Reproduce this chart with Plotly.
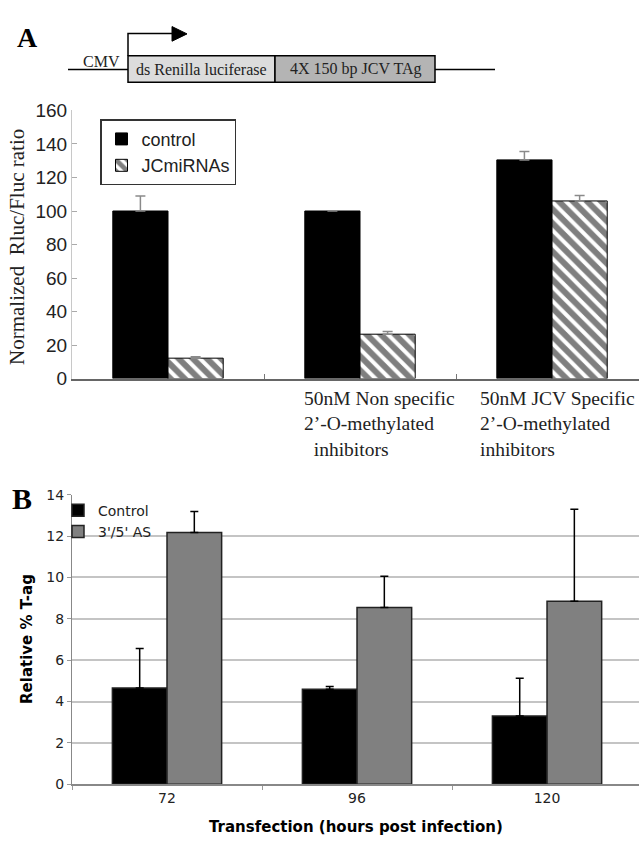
import plotly.graph_objects as go

W, H = 639, 845

# ---------------- Data ----------------
# Panel A
a_categories = ["", "50nM Non specific", "50nM JCV Specific"]
a_labels = ["",
            "50nM Non specific<br>2’-O-methylated<br>\u00a0\u00a0inhibitors",
            "50nM JCV Specific<br>2’-O-methylated<br>inhibitors"]
a_control = [100, 100, 130.5]
a_control_err = [9, 0, 5]
a_jc = [12.2, 26.5, 106]
a_jc_err = [0.8, 1.6, 3.2]
a_yticks = [0, 20, 40, 60, 80, 100, 120, 140, 160]

# Panel B
b_categories = ["72", "96", "120"]
b_control = [4.65, 4.59, 3.30]
b_control_err = [1.91, 0.14, 1.83]
b_as = [12.17, 8.54, 8.85]
b_as_err = [1.02, 1.51, 4.44]
b_yticks = [0, 2, 4, 6, 8, 10, 12, 14]


def px(x):
    return x / W


def py(y):
    return 1 - y / H


fig = go.Figure()

# Panel A traces
fig.add_trace(go.Bar(
    x=a_categories, y=a_control, name="control",
    marker=dict(color="black", line=dict(color="black", width=1)),
    error_y=dict(type="data", symmetric=False, array=a_control_err,
                 arrayminus=[0] * 3, color="#8a8a8a", thickness=1.5, width=5),
    xaxis="x", yaxis="y", legend="legend",
))
fig.add_trace(go.Bar(
    x=a_categories, y=a_jc, name="JCmiRNAs",
    marker=dict(color="white", line=dict(color="black", width=1),
                pattern=dict(shape="\\", fgcolor="black", bgcolor="white",
                             size=10, solidity=0.6)),
    error_y=dict(type="data", symmetric=False, array=a_jc_err,
                 arrayminus=[0] * 3, color="#8a8a8a", thickness=1.5, width=5),
    xaxis="x", yaxis="y", legend="legend",
))

# Panel B traces
fig.add_trace(go.Bar(
    x=b_categories, y=b_control, name="Control",
    marker=dict(color="black", line=dict(color="#222", width=1.5)),
    error_y=dict(type="data", symmetric=False, array=b_control_err,
                 arrayminus=[0] * 3, color="black", thickness=1.5, width=4),
    xaxis="x2", yaxis="y2", legend="legend2",
))
fig.add_trace(go.Bar(
    x=b_categories, y=b_as, name="3'/5' AS",
    marker=dict(color="#808080", line=dict(color="#222", width=1.5)),
    error_y=dict(type="data", symmetric=False, array=b_as_err,
                 arrayminus=[0] * 3, color="black", thickness=1.5, width=4),
    xaxis="x2", yaxis="y2", legend="legend2",
))

shapes = []
# Diagram at top of panel A
shapes.append(dict(type="line", xref="paper", yref="paper",
                   x0=px(68), x1=px(128), y0=py(61), y1=py(61),
                   line=dict(color="black", width=1.5)))
shapes.append(dict(type="line", xref="paper", yref="paper",
                   x0=px(435), x1=px(495), y0=py(61), y1=py(61),
                   line=dict(color="black", width=1.5)))
shapes.append(dict(type="rect", xref="paper", yref="paper",
                   x0=px(128), x1=px(275), y0=py(74), y1=py(47),
                   fillcolor="#dcdcdc", line=dict(color="black", width=1.5)))
shapes.append(dict(type="rect", xref="paper", yref="paper",
                   x0=px(275), x1=px(435), y0=py(74), y1=py(47),
                   fillcolor="#b4b4b4", line=dict(color="black", width=1.5)))
shapes.append(dict(type="path", xref="paper", yref="paper",
                   path=f"M {px(128)},{py(47)} L {px(128)},{py(24)} L {px(173)},{py(24)}",
                   line=dict(color="black", width=1.5)))
shapes.append(dict(type="path", xref="paper", yref="paper",
                   path=f"M {px(172)},{py(17)} L {px(187)},{py(24.5)} L {px(172)},{py(32)} Z",
                   fillcolor="black", line=dict(color="black", width=1)))


def ann(text, x, y, family, size, angle=0, color="#222"):
    return dict(text=text, x=px(x), y=py(y), xref="paper", yref="paper",
                xanchor="center", yanchor="middle", textangle=angle,
                showarrow=False, font=dict(family=family, size=size, color=color))


annotations = [
    ann("<b>A</b>", 27, 28, "Liberation Serif", 28, color="black"),
    ann("<b>B</b>", 22, 501, "Liberation Serif", 30, color="black"),
    ann("CMV", 101.5, 53, "Liberation Serif", 16),
    ann("ds Renilla luciferase", 201.5, 61, "Liberation Serif", 16),
    ann("4X 150 bp JCV TAg", 355, 61, "Liberation Serif", 16),
    ann("Normalized\u00a0\u00a0Rluc/Fluc ratio", 17, 243, "Liberation Serif", 21, angle=-90),
    ann("<b>Relative % T-ag</b>", 27, 645, "DejaVu Sans", 15, angle=-90, color="black"),
    ann("<b>Transfection (hours post infection)</b>", 356, 838, "DejaVu Sans", 15, color="black"),
]
# Category labels for panel A (left aligned blocks)
a_shifts = [0, -58, -74]
for i, lab in enumerate(a_labels):
    if lab:
        annotations.append(dict(
            text=lab, x=a_categories[i], y=py(386), xref="x", yref="paper",
            xanchor="left", yanchor="top", align="left", xshift=a_shifts[i],
            showarrow=False,
            font=dict(family="Liberation Serif", size=19.5, color="#222")))

fig.update_layout(
    width=W, height=H,
    margin=dict(l=0, r=0, t=0, b=0),
    paper_bgcolor="white", plot_bgcolor="white",
    barmode="group", bargap=0.425, bargroupgap=0,
    shapes=shapes, annotations=annotations,
    xaxis=dict(domain=[px(72), 1], anchor="y", range=[-0.5, 2.453],
               type="category", tickson="boundaries", ticks="inside",
               ticklen=5, tickcolor="#777", showticklabels=False,
               showline=True, linecolor="#666", linewidth=1.5,
               showgrid=False, zeroline=False),
    yaxis=dict(domain=[py(378), py(103)], anchor="x", range=[0, 160],
               tickvals=a_yticks, ticks="inside", ticklen=5, tickcolor="#aaa",
               showline=True, linecolor="#c8c8c8", linewidth=1,
               showgrid=False, zeroline=False,
               tickfont=dict(family="Liberation Sans", size=19, color="#222")),
    xaxis2=dict(domain=[px(72), 1], anchor="y2", range=[-0.5, 2.484],
                type="category", tickson="boundaries", ticks="outside",
                ticklen=4, tickcolor="#999",
                showline=True, linecolor="#888", linewidth=1.5,
                showgrid=False, zeroline=False,
                tickfont=dict(family="DejaVu Sans", size=14, color="#222")),
    yaxis2=dict(domain=[py(794), py(497)], anchor="x2", range=[0, 14],
                tickvals=b_yticks, ticks="outside", ticklen=4, tickcolor="#999",
                showline=True, linecolor="#888", linewidth=1,
                showgrid=True, gridcolor="#c4c4c4", gridwidth=1.5,
                zeroline=False,
                tickfont=dict(family="DejaVu Sans", size=14, color="#222")),
    legend=dict(x=px(100), y=py(112), xanchor="left", yanchor="top",
                bordercolor="#333", borderwidth=1.5, bgcolor="white",
                font=dict(family="Liberation Sans", size=18, color="#222"),
                itemwidth=30, tracegroupgap=0),
    legend2=dict(x=px(58), y=py(497), xanchor="left", yanchor="top",
                 bgcolor="rgba(255,255,255,0)", borderwidth=0,
                 font=dict(family="DejaVu Sans", size=14, color="#222"),
                 itemwidth=30, tracegroupgap=0),
    showlegend=True,
)

fig.write_html(
    "out.html",
    config={"displayModeBar": False},
    post_script=(
        "document.body.style.margin='0';"
        "document.body.style.overflow='hidden';"
        "var gd=document.getElementById('{plot_id}');"
        "gd.style.position='absolute';gd.style.left='0px';gd.style.top='0px';"
    ),
)
